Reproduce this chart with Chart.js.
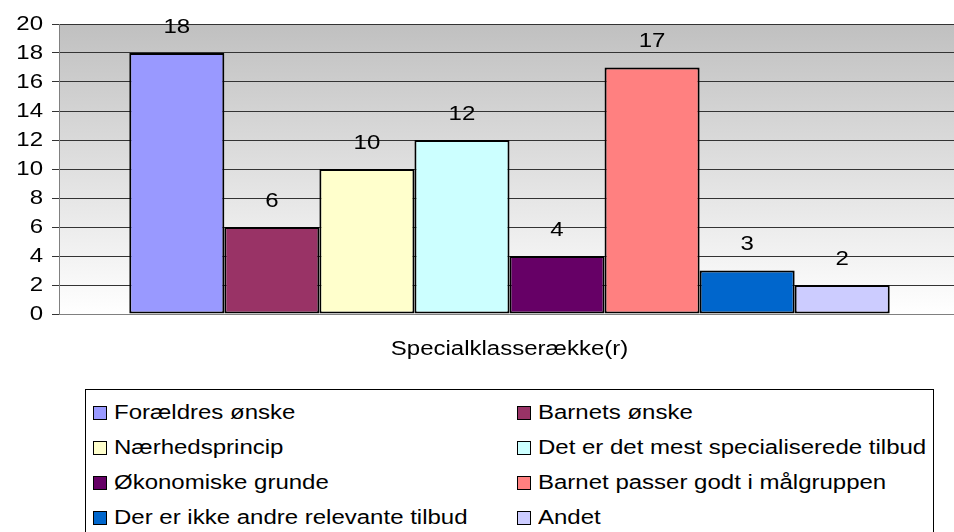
<!DOCTYPE html>
<html>
<head>
<meta charset="utf-8">
<script src="https://cdn.jsdelivr.net/npm/chart.js@4.4.0/dist/chart.umd.min.js"></script>
<style>
  html, body { margin:0; padding:0; overflow:hidden; background:#fff; }
  body { width:954px; height:532px; position:relative; font-family: Arial, "Liberation Sans", sans-serif; }
  #wrap { position:absolute; left:0; top:0; width:960px; height:380px; }
  #legend { position:absolute; left:85px; top:389px; width:849px; height:160px; border:1px solid #000; box-sizing:border-box; }
  .item { position:absolute; font-size:20px; line-height:20px; color:#000; white-space:nowrap; }
  .box { display:inline-block; width:12px; height:12px; border:1px solid #000; vertical-align:-1px; margin-right:7px; }
  .txt { display:inline-block; transform:scaleX(1.2); transform-origin:left center; }
</style>
</head>
<body>
<div id="wrap"><canvas id="chart"></canvas></div>
<div id="legend"></div>
<script>
// data
const categories = ['Specialklasserække(r)'];
const seriesNames = [
  'Forældres ønske',
  'Barnets ønske',
  'Nærhedsprincip',
  'Det er det mest specialiserede tilbud',
  'Økonomiske grunde',
  'Barnet passer godt i målgruppen',
  'Der er ikke andre relevante tilbud',
  'Andet'
];
const seriesValues = [18, 6, 10, 12, 4, 17, 3, 2];
const seriesColors = ['#9999FF', '#993366', '#FFFFCC', '#CCFFFF', '#660066', '#FF8080', '#0066CC', '#CCCCFF'];
const yTicks = [0, 2, 4, 6, 8, 10, 12, 14, 16, 18, 20];

const FONT = 'Arial, "Liberation Sans", sans-serif';
const TEXT_STRETCH = 1.2; // the original text is drawn wider than normal Arial

const datasets = seriesNames.map((name, i) => ({
  label: name,
  data: [seriesValues[i]],
  backgroundColor: seriesColors[i],
  borderColor: '#000',
  borderWidth: 2,
  borderSkipped: false
}));

// stretch all canvas text horizontally around its anchor point
const canvas = document.getElementById('chart');
const ctx = canvas.getContext('2d');
const rawFillText = ctx.fillText;
ctx.fillText = function(text, x, y, maxWidth) {
  this.save();
  this.translate(x, y);
  this.scale(TEXT_STRETCH, 1);
  if (maxWidth === undefined) rawFillText.call(this, text, 0, 0);
  else rawFillText.call(this, text, 0, 0, maxWidth / TEXT_STRETCH);
  this.restore();
};

// gradient behind the plot
const bgPlugin = {
  id: 'bg',
  beforeDraw(chart) {
    const {ctx, chartArea:a} = chart;
    const g = ctx.createLinearGradient(0, a.top, 0, a.bottom);
    g.addColorStop(0, '#c0c0c0');
    g.addColorStop(1, '#ffffff');
    ctx.save();
    ctx.fillStyle = g;
    ctx.fillRect(a.left, a.top, a.right - a.left, a.bottom - a.top);
    ctx.restore();
  }
};

// value labels above bars
const valuePlugin = {
  id: 'values',
  afterDatasetsDraw(chart) {
    const ctx = chart.ctx;
    ctx.save();
    ctx.font = '20px ' + FONT;
    ctx.fillStyle = '#000';
    ctx.textAlign = 'center';
    ctx.textBaseline = 'middle';
    chart.data.datasets.forEach((ds, i) => {
      const bar = chart.getDatasetMeta(i).data[0];
      ctx.fillText(String(ds.data[0]), bar.x, bar.y - 26);
    });
    ctx.restore();
  }
};

new Chart(ctx, {
  type: 'bar',
  data: { labels: categories, datasets: datasets },
  options: {
    responsive: true,
    maintainAspectRatio: false,
    animation: false,
    layout: { padding: { top: 24, right: 0, bottom: 0, left: 0 } },
    categoryPercentage: 0.844,
    barPercentage: 1,
    plugins: { legend: { display: false }, tooltip: { enabled: false } },
    scales: {
      x: {
        grid: { display: false, drawTicks: false },
        border: { display: true, color: '#808080', width: 1 },
        ticks: { color: '#000', font: { family: FONT, size: 20 }, padding: 23 },
        afterFit(s) { s.height = 66; }
      },
      y: {
        min: 0, max: 20,
        afterBuildTicks(s) { s.ticks = yTicks.map(v => ({ value: v })); },
        grid: { color: '#333', lineWidth: 1, tickLength: 7 },
        border: { display: true, color: '#808080', width: 1 },
        ticks: { color: '#000', font: { family: FONT, size: 20 }, padding: 9 },
        afterFit(s) { s.width = 59; }
      }
    }
  },
  plugins: [bgPlugin, valuePlugin]
});

// legend in two columns
const legend = document.getElementById('legend');
seriesNames.forEach((name, i) => {
  const col = i % 2, row = Math.floor(i / 2);
  const el = document.createElement('div');
  el.className = 'item';
  el.style.left = (col ? 431 : 7) + 'px';
  el.style.top = (12 + row * 35) + 'px';
  el.innerHTML = '<span class="box" style="background:' + seriesColors[i] + '"></span><span class="txt">' + name + '</span>';
  legend.appendChild(el);
});
</script>
</body>
</html>
